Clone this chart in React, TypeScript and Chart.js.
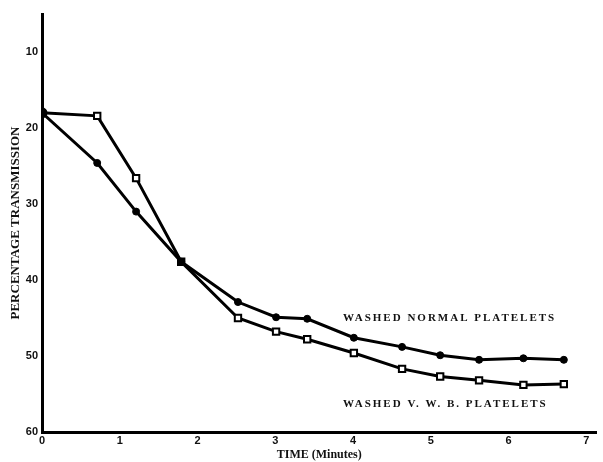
import React, { useEffect, useRef } from "react";
import { Chart, registerables } from "chart.js";

Chart.register(...registerables);

const times = [0, 0.71, 1.21, 1.79, 2.52, 3.01, 3.41, 4.01, 4.63, 5.12, 5.62, 6.19, 6.71];
const normalValues = [18, 24.6, 31, 37.6, 42.9, 44.9, 45.1, 47.6, 48.8, 49.9, 50.5, 50.3, 50.5];
const vwbValues = [18, 18.4, 26.6, 37.6, 45, 46.8, 47.8, 49.6, 51.7, 52.7, 53.2, 53.8, 53.7];
const xTicks = [0, 1, 2, 3, 4, 5, 6, 7];
const yTicks = [10, 20, 30, 40, 50, 60];
const seriesLabels = ["WASHED NORMAL PLATELETS", "WASHED V. W. B. PLATELETS"];
const labelAnchors = [
  { x: 3.87, y: 45 },
  { x: 3.87, y: 56.4 },
];

const annotationPlugin = {
  id: "seriesAnnotations",
  afterDatasetsDraw(chart: any) {
    const { ctx, scales } = chart;
    ctx.save();
    ctx.fillStyle = "#111";
    ctx.font = "bold 11px 'Liberation Serif'";
    (ctx as any).letterSpacing = "2px";
    ctx.textBaseline = "middle";
    ctx.textAlign = "left";
    seriesLabels.forEach((t, i) => {
      const a = labelAnchors[i];
      ctx.fillText(t, scales.x.getPixelForValue(a.x), scales.y.getPixelForValue(a.y));
    });
    ctx.restore();
  },
};

export default function App() {
  const ref = useRef<HTMLCanvasElement>(null);
  useEffect(() => {
    if (!ref.current) return;
    const chart = new Chart(ref.current, {
      type: "line",
      data: {
        datasets: [
          {
            label: seriesLabels[0],
            data: times.map((t, i) => ({ x: t, y: normalValues[i] })),
            borderColor: "#000",
            backgroundColor: "#000",
            borderWidth: 3,
            pointStyle: "circle",
            pointRadius: 3.5,
            pointBorderWidth: 1,
            pointBackgroundColor: "#000",
            pointBorderColor: "#000",
            tension: 0,
            order: 1,
          },
          {
            label: seriesLabels[1],
            data: times.map((t, i) => ({ x: t, y: vwbValues[i] })),
            borderColor: "#000",
            backgroundColor: "#fff",
            borderWidth: 3,
            pointStyle: times.map((_, i) => (i === 0 ? "circle" : "rect")),
            pointRadius: 4.5,
            pointBorderWidth: 2,
            pointBackgroundColor: times.map((_, i) => (i === 0 ? "#000" : "#fff")),
            pointBorderColor: "#000",
            tension: 0,
            order: 2,
          },
        ],
      },
      options: {
        animation: false,
        responsive: true,
        maintainAspectRatio: false,
        layout: { padding: { top: 14, right: 5, left: 0, bottom: 0 } },
        plugins: {
          legend: { display: false },
          tooltip: { enabled: false },
        },
        scales: {
          x: {
            type: "linear",
            min: 0,
            max: 7.13,
            grid: { display: false, drawTicks: false },
            border: { display: true, width: 3, color: "#000" },
            afterBuildTicks: (axis: any) => {
              axis.ticks = xTicks.map((v) => ({ value: v }));
            },
            afterFit: (axis: any) => {
              axis.height = 30;
            },
            ticks: {
              padding: 2,
              color: "#111",
              font: { family: "'Liberation Sans'", size: 11, weight: "bold" },
              maxRotation: 0,
              autoSkip: false,
            },
            title: {
              display: true,
              text: "TIME (Minutes)",
              color: "#111",
              font: { family: "'Liberation Serif'", size: 12, weight: "bold" },
              padding: { top: 0, bottom: 0 },
            },
          },
          y: {
            type: "linear",
            reverse: true,
            min: 5,
            max: 60,
            grid: { display: false, drawTicks: false },
            border: { display: true, width: 3, color: "#000" },
            afterBuildTicks: (axis: any) => {
              axis.ticks = yTicks.map((v) => ({ value: v }));
            },
            afterFit: (axis: any) => {
              axis.width = 42;
            },
            ticks: {
              padding: 4,
              color: "#111",
              font: { family: "'Liberation Sans'", size: 11, weight: "bold" },
              autoSkip: false,
            },
            title: {
              display: true,
              text: "PERCENTAGE TRANSMISSION",
              color: "#111",
              font: { family: "'Liberation Serif'", size: 13, weight: "bold" },
              padding: { top: 8, bottom: 0 },
            },
          },
        },
      },
      plugins: [annotationPlugin],
    } as any);
    return () => chart.destroy();
  }, []);
  return (
    <div style={{ position: "absolute", left: 0, top: 0, width: 603, height: 462, background: "#fff" }}>
      <canvas ref={ref} />
    </div>
  );
}
